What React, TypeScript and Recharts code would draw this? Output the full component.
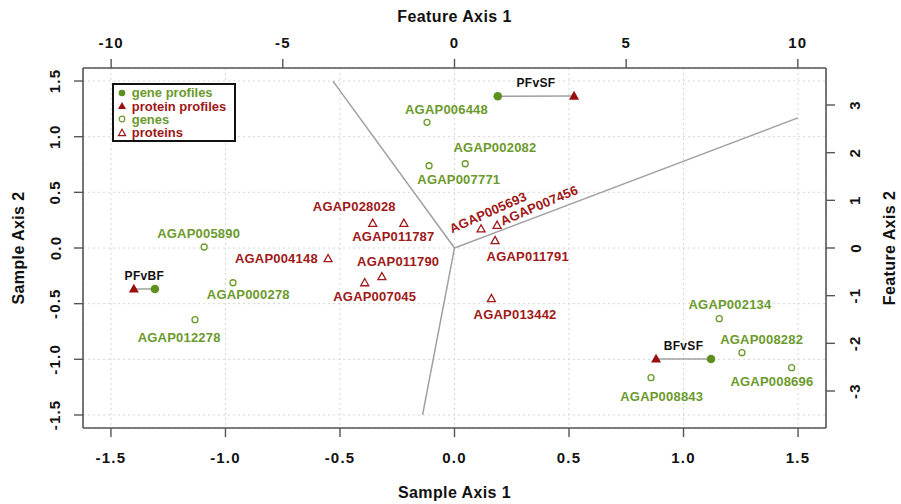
import React from "react";
import {CartesianGrid, ReferenceLine, Scatter, ScatterChart, XAxis, YAxis} from "recharts";

//  DATA

const sampleTicks = [-1.5, -1.0, -0.5, 0, 0.5, 1.0, 1.5]
const featureXTicks = [-10, -5, 0, 5, 10]
const featureYTicks = [-3, -2, -1, 0, 1, 2, 3]

const genes = [
  {name: 'AGAP006448', x: -0.120, y: 1.129},
  {name: 'AGAP002082', x: 0.047, y: 0.757},
  {name: 'AGAP007771', x: -0.111, y: 0.739},
  {name: 'AGAP005890', x: -1.093, y: 0.009},
  {name: 'AGAP000278', x: -0.967, y: -0.312},
  {name: 'AGAP012278', x: -1.133, y: -0.644},
  {name: 'AGAP002134', x: 1.156, y: -0.635},
  {name: 'AGAP008282', x: 1.255, y: -0.940},
  {name: 'AGAP008696', x: 1.472, y: -1.075},
  {name: 'AGAP008843', x: 0.858, y: -1.165},
]

const proteins = [
  {name: 'AGAP028028', x: -0.357, y: 0.222},
  {name: 'AGAP011787', x: -0.221, y: 0.222},
  {name: 'AGAP004148', x: -0.552, y: -0.096},
  {name: 'AGAP011790', x: -0.317, y: -0.258},
  {name: 'AGAP007045', x: -0.392, y: -0.312},
  {name: 'AGAP005693', x: 0.116, y: 0.171},
  {name: 'AGAP007456', x: 0.186, y: 0.204},
  {name: 'AGAP011791', x: 0.177, y: 0.066},
  {name: 'AGAP013442', x: 0.161, y: -0.455},
]

const geneProfiles = [
  {name: 'PFvSF', x: 0.189, y: 1.363},
  {name: 'PFvBF', x: -1.308, y: -0.368},
  {name: 'BFvSF', x: 1.120, y: -0.997},
]

const proteinProfiles = [
  {name: 'PFvSF', x: 0.522, y: 1.365},
  {name: 'PFvBF', x: -1.400, y: -0.368},
  {name: 'BFvSF', x: 0.880, y: -0.997},
]

// feature axis loadings (drawn from the origin)
const featureLoadings = [
  {x: -3.54, y: 3.50},
  {x: 10.0, y: 2.73},
  {x: -0.93, y: -3.50},
]

const legendItems = [
  {label: 'gene profiles', kind: 'geneProfile'},
  {label: 'protein profiles', kind: 'proteinProfile'},
  {label: 'genes', kind: 'gene'},
  {label: 'proteins', kind: 'protein'},
]

//  STYLE

const FONT = '"Liberation Sans", Arial, Helvetica, sans-serif'
const GREEN = '#6b9a2c'
const GREEN_DOT = '#5e8f1f'
const RED = '#a01818'
const RED_DOT = '#9a0e0e'
const AXIS = '#555'
const LINE = '#a0a0a0'

// label offsets from each point: dx, dy, rotation
const labelPlace: Record<string, number[]> = {
  AGAP006448: [19.5, -12.8],
  AGAP002082: [29.7, -15.9],
  AGAP007771: [29.7, 13.8],
  AGAP005890: [-5.5, -13.2],
  AGAP000278: [15.3, 12],
  AGAP012278: [-15.8, 17.5],
  AGAP002134: [10.7, -14],
  AGAP008282: [19.7, -13.5],
  AGAP008696: [-19.7, 14],
  AGAP008843: [10.7, 18.5],
  AGAP028028: [-18.4, -16.5],
  AGAP011787: [-10.5, 13.4],
  AGAP004148: [-51.7, 0],
  AGAP011790: [16.3, -15],
  AGAP007045: [10, 13.3],
  AGAP005693: [7, -16.5, -24],
  AGAP007456: [42, -20, -23],
  AGAP011791: [32.7, 15.6],
  AGAP013442: [23.7, 16],
}

const labelStyle = {fontFamily: FONT, fontWeight: 700, fontSize: 13, letterSpacing: 0.2}
const tickStyle = {fontFamily: FONT, fontWeight: 700, fontSize: 15, letterSpacing: 1.2, fill: '#111'}
const titleStyle = {fontFamily: FONT, fontWeight: 700, fontSize: 16, letterSpacing: 0.4, fill: '#111'}


//  SHAPES

function PointLabel({cx, cy, name, color}: any) {
  const [dx, dy, rot] = labelPlace[name] ?? [0, -12]
  const x = cx + dx
  const y = cy + dy
  return (
    <text x={x} y={y} textAnchor="middle" dominantBaseline="central" fill={color} style={labelStyle}
          transform={rot ? `rotate(${rot} ${x} ${y})` : undefined}>
      {name}
    </text>
  )
}

function GeneShape(props: any) {
  const {cx, cy, payload} = props
  return (
    <g>
      <circle cx={cx} cy={cy} r={3} fill="#fff" stroke={GREEN} strokeWidth={1.3}/>
      <PointLabel cx={cx} cy={cy} name={payload.name} color={GREEN}/>
    </g>
  )
}

function ProteinShape(props: any) {
  const {cx, cy, payload} = props
  return (
    <g>
      <path d={`M${cx},${cy - 4.2} L${cx - 4},${cy + 3} L${cx + 4},${cy + 3} Z`} fill="#fff" stroke={RED} strokeWidth={1.3}/>
      <PointLabel cx={cx} cy={cy} name={payload.name} color={RED}/>
    </g>
  )
}

function GeneProfileShape(props: any) {
  const {cx, cy} = props
  return <circle cx={cx} cy={cy} r={4.3} fill={GREEN_DOT}/>
}

function ProteinProfileShape(props: any) {
  const {cx, cy} = props
  return <path d={`M${cx},${cy - 5.2} L${cx - 5},${cy + 3.6} L${cx + 5},${cy + 3.6} Z`} fill={RED_DOT}/>
}


//  TICKS

const BottomTick = ({x, y, payload}: any) => (
  <text x={x} y={y + 18} textAnchor="middle" dominantBaseline="central" style={tickStyle}>
    {Number(payload.value).toFixed(1)}
  </text>
)

const TopTick = ({x, y, payload}: any) => (
  <text x={x} y={y - 15} textAnchor="middle" dominantBaseline="central" style={tickStyle}>
    {String(payload.value)}
  </text>
)

const LeftTick = ({x, y, payload}: any) => (
  <text x={x - 17} y={y} textAnchor="middle" dominantBaseline="central" style={tickStyle}
        transform={`rotate(-90 ${x - 17} ${y})`}>
    {Number(payload.value).toFixed(1)}
  </text>
)

const RightTick = ({x, y, payload}: any) => (
  <text x={x + 18} y={y} textAnchor="middle" dominantBaseline="central" style={tickStyle}
        transform={`rotate(-90 ${x + 18} ${y})`}>
    {String(payload.value)}
  </text>
)


//  TITLES

function axisTitle(text: string, where: 'bottom' | 'top' | 'left' | 'right') {
  return (props: any) => {
    const vb = props.viewBox ?? {x: 0, y: 0, width: 0, height: 0}
    if (where === 'bottom') {
      return <text x={vb.x + vb.width / 2} y={vb.y + vb.height - 12} textAnchor="middle" dominantBaseline="central" style={titleStyle}>{text}</text>
    }
    if (where === 'top') {
      return <text x={vb.x + vb.width / 2} y={vb.y + 16} textAnchor="middle" dominantBaseline="central" style={titleStyle}>{text}</text>
    }
    const cx = where === 'left' ? vb.x + 18.5 : vb.x + 63
    const cy = vb.y + vb.height / 2
    return (
      <text x={cx} y={cy} textAnchor="middle" dominantBaseline="central" style={titleStyle}
            transform={`rotate(-90 ${cx} ${cy})`}>{text}</text>
    )
  }
}

function profileLabel(text: string) {
  return (props: any) => {
    const vb = props.viewBox
    if (!vb) return null
    return (
      <text x={vb.x + vb.width / 2} y={vb.y - 13} textAnchor="middle" dominantBaseline="central"
            style={{fontFamily: FONT, fontWeight: 700, fontSize: 12, letterSpacing: 0.3, fill: '#111'}}>
        {text}
      </text>
    )
  }
}


//  LEGEND

function LegendSymbol({kind}: {kind: string}) {
  return (
    <svg width={12} height={12} style={{position: 'absolute', left: 2, top: 0.6}}>
      {kind === 'geneProfile' && <circle cx={6} cy={6} r={3.3} fill={GREEN_DOT}/>}
      {kind === 'proteinProfile' && <path d="M6,2 L2,9 L10,9 Z" fill={RED_DOT}/>}
      {kind === 'gene' && <circle cx={6} cy={6} r={2.8} fill="#fff" stroke={GREEN} strokeWidth={1.2}/>}
      {kind === 'protein' && <path d="M6,2.2 L2.4,8.6 L9.6,8.6 Z" fill="#fff" stroke={RED} strokeWidth={1.2}/>}
    </svg>
  )
}

function ChartLegend() {
  return (
    <div style={{
      position: 'absolute', left: 112, top: 83, width: 124, height: 59, boxSizing: 'border-box',
      border: '2px solid #111', background: '#fff', paddingTop: 1.4
    }}>
      {legendItems.map(item => (
        <div key={item.label} style={{
          position: 'relative', height: 13.2, lineHeight: '13.2px', paddingLeft: 17.7,
          fontFamily: FONT, fontWeight: 700, fontSize: 13,
          color: item.kind.startsWith('gene') ? GREEN : RED
        }}>
          <LegendSymbol kind={item.kind}/>
          {item.label}
        </div>
      ))}
    </div>
  )
}


//  RENDER

export default function App() {
  return (
    <div style={{position: 'absolute', left: 0, top: 0, width: 901, height: 504, background: '#fff'}}>
      <ScatterChart width={901} height={504} margin={{top: 0, right: 0, bottom: 0, left: 0}}>
        <CartesianGrid xAxisId="s" yAxisId="s" strokeDasharray="2 3" stroke="#d6d6d6"/>
        <XAxis xAxisId="s" type="number" dataKey="x" orientation="bottom" height={76}
               domain={[-1.622, 1.622]} ticks={sampleTicks} allowDataOverflow
               axisLine={{stroke: AXIS, strokeWidth: 1.6}} tickLine={{stroke: AXIS, strokeWidth: 1.4}} tickSize={9}
               tick={<BottomTick/>} label={axisTitle('Sample Axis 1', 'bottom')}/>
        <XAxis xAxisId="f" type="number" dataKey="x" orientation="top" height={68}
               domain={[-10.82, 10.82]} ticks={featureXTicks} allowDataOverflow
               axisLine={{stroke: AXIS, strokeWidth: 1.6}} tickLine={{stroke: AXIS, strokeWidth: 1.4}} tickSize={9}
               tick={<TopTick/>} label={axisTitle('Feature Axis 1', 'top')}/>
        <YAxis yAxisId="s" type="number" dataKey="y" orientation="left" width={83}
               domain={[-1.617, 1.617]} ticks={sampleTicks} allowDataOverflow
               axisLine={{stroke: AXIS, strokeWidth: 1.6}} tickLine={{stroke: AXIS, strokeWidth: 1.4}} tickSize={9}
               tick={<LeftTick/>} label={axisTitle('Sample Axis 2', 'left')}/>
        <YAxis yAxisId="f" type="number" dataKey="y" orientation="right" width={75}
               domain={[-3.776, 3.776]} ticks={featureYTicks} allowDataOverflow
               axisLine={{stroke: AXIS, strokeWidth: 1.6}} tickLine={{stroke: AXIS, strokeWidth: 1.4}} tickSize={9}
               tick={<RightTick/>} label={axisTitle('Feature Axis 2', 'right')}/>

        {featureLoadings.map((p, i) => (
          <ReferenceLine key={'load' + i} xAxisId="f" yAxisId="f" stroke={LINE} strokeWidth={1.5}
                         segment={[{x: 0, y: 0}, {x: p.x, y: p.y}]}/>
        ))}

        {proteinProfiles.map((p, i) => (
          <ReferenceLine key={'prof' + i} xAxisId="s" yAxisId="s" stroke={LINE} strokeWidth={1.5}
                         segment={[{x: p.x, y: p.y}, {x: geneProfiles[i].x, y: geneProfiles[i].y}]}
                         label={profileLabel(p.name)}/>
        ))}

        <Scatter name="genes" data={genes} xAxisId="s" yAxisId="s" shape={<GeneShape/>} isAnimationActive={false}/>
        <Scatter name="proteins" data={proteins} xAxisId="s" yAxisId="s" shape={<ProteinShape/>} isAnimationActive={false}/>
        <Scatter name="gene profiles" data={geneProfiles} xAxisId="s" yAxisId="s" shape={<GeneProfileShape/>} isAnimationActive={false}/>
        <Scatter name="protein profiles" data={proteinProfiles} xAxisId="s" yAxisId="s" shape={<ProteinProfileShape/>} isAnimationActive={false}/>
      </ScatterChart>
      <ChartLegend/>
    </div>
  )
}
